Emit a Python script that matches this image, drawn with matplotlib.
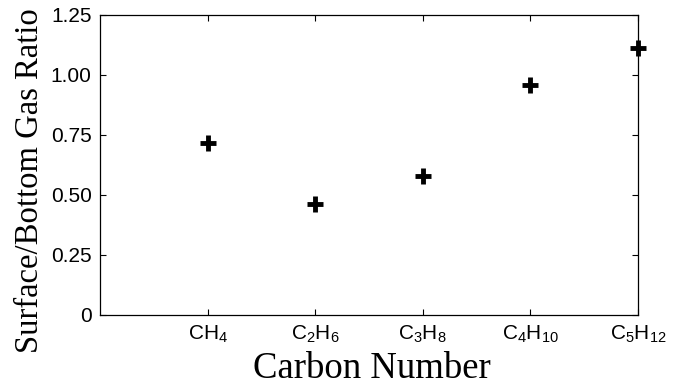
import numpy as np
import matplotlib.pyplot as plt

# gas ratio per alkane
gases = [r'$\mathregular{CH_4}$', r'$\mathregular{C_2H_6}$', r'$\mathregular{C_3H_8}$',
         r'$\mathregular{C_4H_{10}}$', r'$\mathregular{C_5H_{12}}$']
carbon = [1, 2, 3, 4, 5]
ratio = [0.715, 0.46, 0.578, 0.956, 1.11]
yticks = [0, 0.25, 0.5, 0.75, 1.0, 1.25]
ytick_labels = ['0', '0.25', '0.50', '0.75', '1.00', '1.25']

plt.rcParams['font.family'] = 'Liberation Sans'
plt.rcParams['mathtext.fontset'] = 'custom'
plt.rcParams['mathtext.rm'] = 'Liberation Sans'

fig = plt.figure(figsize=(6.73, 3.86), dpi=100)
ax = fig.add_axes([0.1486, 0.184, 0.7994, 0.778])

ax.plot(carbon, ratio, linestyle='none', marker='+', markersize=12,
        markeredgewidth=3.5, color='black', clip_on=False)

ax.set_xlim(0, 5)
ax.set_ylim(0, 1.25)
ax.set_xticks(carbon)
ax.set_xticklabels(gases)
ax.set_yticks(yticks)
ax.set_yticklabels(ytick_labels)
ax.tick_params(direction='in', top=True, right=True, length=4, width=0.8,
               labelsize=15, pad=6)
for s in ax.spines.values():
    s.set_linewidth(0.9)

ax.set_xlabel('Carbon Number', family='Liberation Serif', fontsize=26.5, va='baseline')
ax.xaxis.set_label_coords(0.505, -0.2097)
ax.set_ylabel('Surface/Bottom Gas Ratio', family='Liberation Serif', fontsize=23.5, va='baseline')
ax.yaxis.set_label_coords(-0.1152, 0.446)

fig.savefig('out.png', dpi=100)
